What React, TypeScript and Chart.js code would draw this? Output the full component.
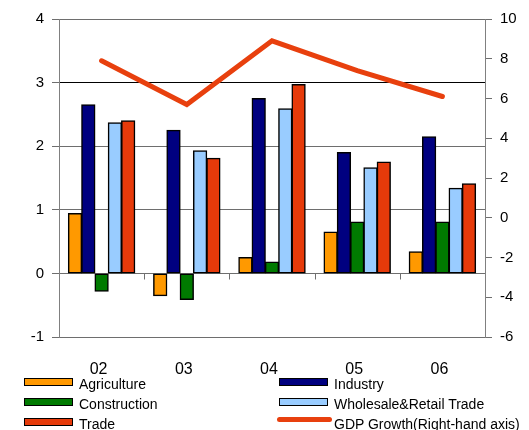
import React, { useEffect, useRef } from "react";
import { Chart, registerables } from "chart.js";

Chart.register(...registerables);

const categories = ["02", "03", "04", "05", "06"];
const agriculture = [0.94, -0.35, 0.25, 0.65, 0.34];
const industry = [2.65, 2.25, 2.75, 1.9, 2.15];
const construction = [-0.28, -0.41, 0.18, 0.81, 0.81];
const wholesaleRetail = [2.37, 1.93, 2.59, 1.66, 1.34];
const trade = [2.4, 1.81, 2.97, 1.75, 1.41];
const gdpGrowth = [7.9, 5.7, 8.9, 7.4, 6.1];

const leftTicks = { min: -1, max: 4, step: 1 };
const rightTicks = { min: -6, max: 10, step: 2 };

const COLORS = {
  agriculture: "#ff9900",
  industry: "#000080",
  construction: "#007a00",
  wholesale: "#99ccff",
  trade: "#e63a0a",
  gdp: "#e8400e",
};

const FONT = "'Liberation Sans', Arial, sans-serif";

type LegendItem = { label: string; color: string; kind: "box" | "line" };
const legendLeft: LegendItem[] = [
  { label: "Agriculture", color: COLORS.agriculture, kind: "box" },
  { label: "Construction", color: COLORS.construction, kind: "box" },
  { label: "Trade", color: COLORS.trade, kind: "box" },
];
const legendRight: LegendItem[] = [
  { label: "Industry", color: COLORS.industry, kind: "box" },
  { label: "Wholesale&Retail Trade", color: COLORS.wholesale, kind: "box" },
  { label: "GDP Growth(Right-hand axis)", color: COLORS.gdp, kind: "line" },
];

// small tick marks hanging below the zero line between categories
const zeroLineTicks = {
  id: "zeroLineTicks",
  afterDatasetsDraw(chart: any) {
    const x = chart.scales.x;
    const y = chart.scales.y;
    const ctx = chart.ctx;
    const y0 = Math.round(y.getPixelForValue(0)) + 0.5;
    ctx.save();
    ctx.strokeStyle = "#707070";
    ctx.lineWidth = 1;
    for (let i = 1; i < categories.length; i++) {
      const px = Math.round((x.getPixelForValue(i - 1) + x.getPixelForValue(i)) / 2) + 0.5;
      ctx.beginPath();
      ctx.moveTo(px, y0);
      ctx.lineTo(px, y0 + 6);
      ctx.stroke();
    }
    ctx.restore();
  },
};

function ChartCanvas() {
  const ref = useRef<HTMLCanvasElement | null>(null);

  useEffect(() => {
    document.body.style.margin = "0";
    const barDs = (label: string, data: number[], color: string) => ({
      type: "bar" as const,
      label,
      data,
      backgroundColor: color,
      borderColor: "#000000",
      borderWidth: 1.5,
      borderSkipped: false,
      inflateAmount: 0.5,
      yAxisID: "y",
      order: 2,
    });
    const chart = new Chart(ref.current as HTMLCanvasElement, {
      type: "bar",
      data: {
        labels: categories,
        datasets: [
          {
            type: "line",
            label: "GDP Growth(Right-hand axis)",
            data: gdpGrowth,
            borderColor: COLORS.gdp,
            borderWidth: 5,
            borderCapStyle: "round",
            borderJoinStyle: "miter",
            pointRadius: 0,
            tension: 0,
            yAxisID: "y2",
            order: 1,
          } as any,
          barDs("Agriculture", agriculture, COLORS.agriculture),
          barDs("Industry", industry, COLORS.industry),
          barDs("Construction", construction, COLORS.construction),
          barDs("Wholesale&Retail Trade", wholesaleRetail, COLORS.wholesale),
          barDs("Trade", trade, COLORS.trade),
        ],
      },
      options: {
        animation: false,
        responsive: false,
        maintainAspectRatio: false,
        layout: { padding: { left: 0, right: 0, top: 19, bottom: 53 } },
        datasets: { bar: { categoryPercentage: 0.78, barPercentage: 1 } },
        plugins: { legend: { display: false }, tooltip: { enabled: false } },
        scales: {
          x: {
            grid: { display: false },
            border: { display: false },
            ticks: {
              color: "#000",
              font: { family: FONT, size: 16 },
              padding: 15,
              labelOffset: -3,
              maxRotation: 0,
            },
            afterFit(scale: any) {
              scale.height = 40;
            },
          },
          y: {
            position: "left",
            min: leftTicks.min,
            max: leftTicks.max,
            ticks: {
              stepSize: leftTicks.step,
              color: "#000",
              font: { family: FONT, size: 15 },
              padding: 8,
            },
            grid: {
              color: (c: any) => (c.tick && c.tick.value === 3 ? "#000000" : "#6e6e6e"),
              tickColor: "#6e6e6e",
              tickLength: 7,
              lineWidth: 1,
            },
            border: { display: true, color: "#808080", width: 1 },
            afterFit(scale: any) {
              scale.width = 59;
            },
          },
          y2: {
            position: "right",
            min: rightTicks.min,
            max: rightTicks.max,
            ticks: {
              stepSize: rightTicks.step,
              color: "#000",
              font: { family: FONT, size: 15 },
              padding: 8,
            },
            grid: {
              drawOnChartArea: false,
              tickColor: "#6e6e6e",
              tickLength: 7,
            },
            border: { display: true, color: "#808080", width: 1 },
            afterFit(scale: any) {
              scale.width = 44;
            },
          },
        },
      } as any,
      plugins: [zeroLineTicks],
    });
    return () => chart.destroy();
  }, []);

  return <canvas ref={ref} width={529} height={430} style={{ position: "absolute", left: 0, top: 0 }} />;
}

function LegendEntry({ item, left, top }: { item: LegendItem; left: number; top: number }) {
  const swatch =
    item.kind === "box" ? (
      <div
        style={{
          position: "absolute",
          left: 0,
          top: -4,
          width: 49,
          height: 8,
          boxSizing: "border-box",
          border: "1.5px solid #000",
          background: item.color,
        }}
      />
    ) : (
      <div
        style={{
          position: "absolute",
          left: -2,
          top: -5,
          width: 55,
          height: 5,
          borderRadius: 3,
          background: item.color,
        }}
      />
    );
  return (
    <div style={{ position: "absolute", left, top }}>
      {swatch}
      <span
        style={{
          position: "absolute",
          left: 55,
          top: -6,
          whiteSpace: "nowrap",
          fontFamily: FONT,
          fontSize: 14,
          lineHeight: "16px",
          color: "#000",
        }}
      >
        {item.label}
      </span>
    </div>
  );
}

export default function App() {
  const rows = [382, 402, 422];
  return (
    <div style={{ position: "relative", width: 529, height: 430, overflow: "hidden", background: "#fff" }}>
      <ChartCanvas />
      {legendLeft.map((it, i) => (
        <LegendEntry key={it.label} item={it} left={24} top={rows[i]} />
      ))}
      {legendRight.map((it, i) => (
        <LegendEntry key={it.label} item={it} left={279} top={rows[i]} />
      ))}
    </div>
  );
}
